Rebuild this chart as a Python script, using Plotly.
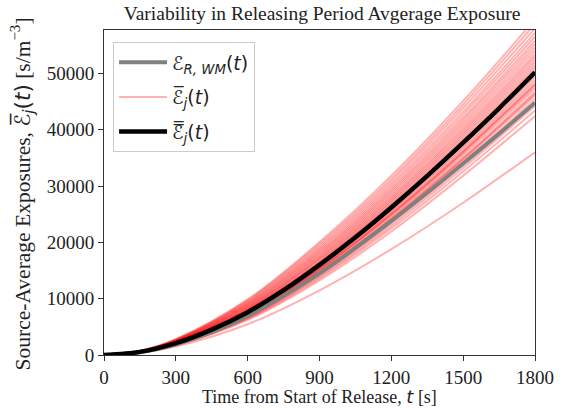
import plotly.graph_objects as go

# ---------------- data ----------------
# time grid for the thick curves [s]
t_fine = [0, 150, 300, 450, 600, 750, 900, 1050, 1200, 1350, 1500, 1650, 1800]
# releasing-period weighted-mean exposure (grey)
exposure_rwm = [0, 500, 1900, 4100, 6950, 10500, 14500, 19000, 23800, 28800, 34000, 39300, 44800]
# mean over sources (black)
exposure_mean = [0, 550, 2100, 4500, 7600, 11500, 16000, 20900, 26200, 31800, 37700, 43800, 50200]

# time grid for the individual source curves [s]
t_src = [0, 150, 300, 600, 900, 1200, 1500, 1800]
src_01 = [0, 395, 1506, 5450, 11474, 18788, 27035, 36000]
src_02 = [0, 447, 1708, 6242, 13266, 21924, 31841, 42400]
src_03 = [0, 461, 1759, 6416, 13616, 22472, 32592, 43400]
src_04 = [0, 471, 1799, 6556, 13896, 22912, 33195, 44200]
src_05 = [0, 481, 1834, 6677, 14141, 23294, 33719, 44900]
src_06 = [0, 488, 1864, 6782, 14352, 23625, 34171, 45500]
src_07 = [0, 496, 1894, 6886, 14562, 23952, 34620, 46100]
src_08 = [0, 500, 1909, 6938, 14667, 24117, 34846, 46400]
src_09 = [0, 504, 1924, 6990, 14773, 24282, 35072, 46700]
src_10 = [0, 512, 1954, 7095, 14984, 24610, 35522, 47300]
src_11 = [0, 519, 1979, 7182, 15158, 24885, 35898, 47800]
src_12 = [0, 521, 1990, 7217, 15229, 24995, 36049, 48000]
src_13 = [0, 525, 2005, 7269, 15334, 25160, 36275, 48300]
src_14 = [0, 532, 2030, 7356, 15509, 25432, 36648, 48800]
src_15 = [0, 538, 2055, 7443, 15685, 25707, 37025, 49300]
src_16 = [0, 545, 2080, 7530, 15859, 25980, 37398, 49800]
src_17 = [0, 555, 2120, 7650, 16090, 26320, 37860, 50400]
src_18 = [0, 564, 2153, 7769, 16301, 26619, 38251, 50900]
src_19 = [0, 574, 2190, 7890, 16517, 26921, 38646, 51400]
src_20 = [0, 584, 2228, 8012, 16731, 27222, 39042, 51900]
src_21 = [0, 594, 2266, 8133, 16946, 27520, 39434, 52400]
src_22 = [0, 603, 2303, 8254, 17162, 27822, 39830, 52900]
src_23 = [0, 613, 2341, 8374, 17376, 28120, 40222, 53400]
src_24 = [0, 625, 2386, 8520, 17635, 28482, 40697, 54000]
src_25 = [0, 637, 2431, 8666, 17893, 28838, 41168, 54600]
src_26 = [0, 649, 2477, 8811, 18152, 29200, 41643, 55200]
src_27 = [0, 661, 2522, 8957, 18411, 29561, 42118, 55800]
src_28 = [0, 674, 2574, 9126, 18711, 29981, 42669, 56500]
src_29 = [0, 688, 2627, 9296, 19011, 30400, 43219, 57200]
src_30 = [0, 704, 2687, 9489, 19357, 30882, 43853, 58000]
src_31 = [0, 720, 2748, 9683, 19701, 31361, 44482, 58800]
src_32 = [0, 736, 2808, 9877, 20045, 31843, 45113, 59600]

sources = [src_01, src_02, src_03, src_04, src_05, src_06, src_07, src_08,
           src_09, src_10, src_11, src_12, src_13, src_14, src_15, src_16,
           src_17, src_18, src_19, src_20, src_21, src_22, src_23, src_24,
           src_25, src_26, src_27, src_28, src_29, src_30, src_31, src_32]

x_ticks = [0, 300, 600, 900, 1200, 1500, 1800]
y_ticks = [0, 10000, 20000, 30000, 40000, 50000]
y_ticktext = ["0", "10000", "20000", "30000", "40000", "50000"]

title_text = "Variability in Releasing Period Avgerage Exposure"

# ---------------- figure ----------------
SERIF = "Liberation Serif"
SANS = "DejaVu Sans"
EPS = "\u2130"

fig = go.Figure()

for i, s in enumerate(sources):
    fig.add_trace(go.Scatter(
        x=t_src, y=s, mode="lines",
        line=dict(color="rgba(255,0,0,0.3)", width=2, shape="spline", smoothing=1.0),
        name=f"{EPS}\u0305<sub><i>j</i></sub>(<i>t</i>)",
        legendgroup="src", showlegend=(i == 0), legendrank=2,
        hoverinfo="skip",
    ))

fig.add_trace(go.Scatter(
    x=t_fine, y=exposure_rwm, mode="lines",
    line=dict(color="#808080", width=4, shape="spline", smoothing=0.8),
    name=f"{EPS}<sub><i>R, WM</i></sub>(<i>t</i>)",
    legendgroup="rwm", legendrank=1,
))
fig.add_trace(go.Scatter(
    x=t_fine, y=exposure_mean, mode="lines",
    line=dict(color="black", width=4.5, shape="spline", smoothing=0.8),
    name=f"{EPS}\u033f<sub><i>j</i></sub>(<i>t</i>)",
    legendgroup="mean", legendrank=3,
))

axis_common = dict(
    showgrid=False, zeroline=False,
    showline=True, mirror=True, linecolor="#333333", linewidth=1,
    ticks="outside", ticklen=5, tickcolor="#333333", tickwidth=1,
    tickfont=dict(family=SERIF, size=19, color="#222222"),
)

fig.update_layout(
    width=566, height=408,
    margin=dict(l=104, r=26, t=30, b=53),
    paper_bgcolor="white", plot_bgcolor="white",
    title=dict(text=title_text, x=0.569, xanchor="center",
               y=0.967, yanchor="middle",
               font=dict(family=SERIF, size=19.5, color="#222222")),
    xaxis=dict(range=[0, 1800], tickvals=x_ticks, **axis_common),
    yaxis=dict(range=[0, 57700], tickvals=y_ticks, ticktext=y_ticktext, **axis_common),
    legend=dict(
        x=0.021, y=0.962, xanchor="left", yanchor="top",
        bgcolor="rgba(255,255,255,0.8)", bordercolor="#cccccc", borderwidth=1,
        font=dict(family=SANS, size=19, color="#222222"),
        traceorder="grouped", tracegroupgap=7, itemwidth=48,
    ),
    showlegend=True,
)

fig.add_annotation(
    text=f"Time from Start of Release, <span style='font-family:{SANS}'><i>t</i></span> [s]",
    xref="paper", yref="paper", x=0.5, y=-0.129, xanchor="center", yanchor="middle",
    showarrow=False, font=dict(family=SERIF, size=18, color="#222222"),
)
fig.add_annotation(
    text=(f"Source-Average Exposures, <span style='font-family:{SANS}'>{EPS}\u0305<sub><i>j</i></sub>(<i>t</i>)</span>"
          " [s/m<sup>\u22123</sup>]"),
    xref="paper", yref="paper", x=-0.188, y=0.497, xanchor="center", yanchor="middle",
    textangle=-90, showarrow=False, font=dict(family=SERIF, size=21.5, color="#222222"),
)

fig.write_html("out.html")
